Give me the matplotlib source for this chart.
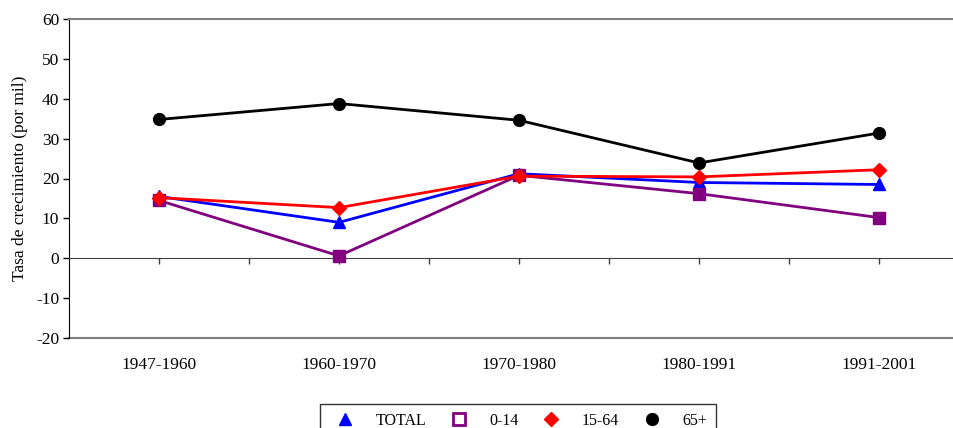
import matplotlib
matplotlib.use('Agg')
import matplotlib.pyplot as plt
from matplotlib.lines import Line2D

periods = ['1947-1960', '1960-1970', '1970-1980', '1980-1991', '1991-2001']
total = [15.5, 9.0, 21.2, 19.0, 18.5]
age_0_14 = [14.5, 0.6, 20.8, 16.2, 10.2]
age_15_64 = [15.2, 12.7, 20.6, 20.4, 22.2]
age_65 = [34.8, 38.8, 34.6, 23.9, 31.4]
y_ticks = [-20, -10, 0, 10, 20, 30, 40, 50, 60]

series = [
    ('TOTAL', total, '#0000FF', '^', 9),
    ('0-14', age_0_14, '#800080', 's', 8),
    ('15-64', age_15_64, '#FF0000', 'D', 7),
    ('65+', age_65, '#000000', 'o', 8.5),
]


def main():
    plt.rcParams['font.family'] = ['Liberation Serif', 'DejaVu Serif']
    plt.rcParams['axes.unicode_minus'] = False
    fig = plt.figure(figsize=(9.54, 4.28), dpi=100)
    ax = fig.add_axes([69 / 954, 1 - 338 / 428, 900 / 954, 319 / 428])

    x = list(range(len(periods)))
    for name, vals, color, marker, ms in series:
        ax.plot(x, vals, color=color, marker=marker, markersize=ms,
                linewidth=2, markeredgecolor=color, clip_on=False, zorder=3)

    ax.set_xlim(-0.5, 4.5)
    ax.set_ylim(-20, 60)
    ax.set_yticks(y_ticks)
    ax.tick_params(axis='y', direction='out', length=4, width=1,
                   labelsize=12.5, pad=3)
    ax.set_ylabel('Tasa de crecimiento (por mil)', fontsize=12.5, labelpad=6)

    # x axis drawn at zero, with ticks every half category
    ax.spines['bottom'].set_position(('data', 0))
    ax.spines['bottom'].set_color('#404040')
    ax.set_xticks([i * 0.5 for i in range(9)])
    ax.tick_params(axis='x', direction='out', length=4, width=1,
                   labelbottom=False, color='#404040')
    ax.spines['left'].set_color('black')
    ax.spines['top'].set_color('#808080')
    ax.spines['top'].set_linewidth(1.5)
    ax.spines['right'].set_visible(False)

    # plot area bottom border + category labels
    sec = ax.secondary_xaxis('bottom')
    sec.set_xticks(x)
    sec.set_xticklabels(periods)
    sec.tick_params(length=0, pad=14, labelsize=12.5)
    sec.spines['bottom'].set_color('#808080')
    sec.spines['bottom'].set_linewidth(1.5)

    handles = [Line2D([], [], color=c, marker=m, markersize=ms, linestyle='None')
               for _, _, c, m, ms in series]
    handles[1].set_markerfacecolor('white')
    handles[1].set_markeredgewidth(2)
    leg = fig.legend(handles, [s[0] for s in series], loc='upper center',
                     bbox_to_anchor=(518 / 954, 1 - 404 / 428), ncol=4,
                     fontsize=11.5, frameon=True, fancybox=False,
                     handlelength=2.0, handletextpad=0.9, columnspacing=1.05,
                     borderpad=0.55, borderaxespad=0)
    leg.get_frame().set_edgecolor('black')
    leg.get_frame().set_linewidth(1)

    fig.savefig('out.png', dpi=100)
    plt.close(fig)


if __name__ == '__main__':
    main()
